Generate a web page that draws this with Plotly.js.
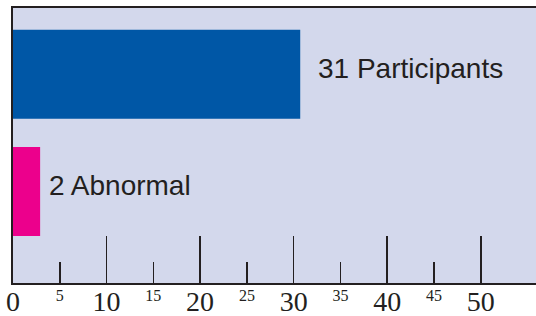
<!DOCTYPE html>
<html>
<head>
<meta charset="utf-8">
<script src="https://cdn.plot.ly/plotly-3.0.1.min.js"></script>
<style>html,body{margin:0;padding:0;background:#fff;}#chart{width:536px;height:316px;}</style>
</head>
<body>
<div id="chart"></div>
<script>
// Data (bottom to top)
var categories = ['Abnormal', 'Participants'];
var values = [2.9, 30.7];
var barLabels = ['2 Abnormal', '31 Participants'];
var barColors = ['#ec008c', '#0057a6'];
var majorTicks = [0, 10, 20, 30, 40, 50];
var majorTickText = ['0', '10', '20', '30', '40', '50'];
var minorTicks = [5, 15, 25, 35, 45];
var minorTickText = ['5', '15', '25', '35', '45'];

var ink = '#231f20';
var xRange = [0, 55.9];

// one trace per category; the second lives on the overlaid minor-tick axis
var axesFor = ['x2', 'x'];
var traces = categories.map(function (c, i) {
  return {
    type: 'bar',
    orientation: 'h',
    y: [c],
    x: [values[i]],
    xaxis: axesFor[i], yaxis: 'y',
    width: 0.76,
    marker: {color: barColors[i], line: {width: 0}},
    hoverinfo: 'none',
    showlegend: false
  };
});

var labelShift = [7, 16];
var annotations = categories.map(function (c, i) {
  return {
    x: values[i], y: c, xref: 'x', yref: 'y',
    text: barLabels[i], showarrow: false,
    xanchor: 'left', yanchor: 'middle',
    xshift: labelShift[i], yshift: 6,
    font: {family: 'Liberation Sans, Arial, sans-serif', size: 28, color: ink}
  };
});

var layout = {
  width: 536, height: 316,
  margin: {l: 13, r: 0, t: 8, b: 33, pad: 0},
  paper_bgcolor: '#ffffff',
  plot_bgcolor: '#d3d8ec',
  showlegend: false,
  xaxis: {
    range: xRange, fixedrange: true,
    tickmode: 'array', tickvals: majorTicks, ticktext: majorTickText,
    ticks: 'inside', ticklen: 47, tickwidth: 1.5, tickcolor: ink,
    showline: true, linewidth: 2, linecolor: ink, mirror: true,
    showgrid: false, zeroline: false,
    ticklabelstandoff: -8,
    tickfont: {family: 'Liberation Serif, Times New Roman, serif', size: 28, color: ink}
  },
  xaxis2: {
    overlaying: 'x', anchor: 'y', side: 'bottom',
    range: xRange, fixedrange: true,
    tickmode: 'array', tickvals: minorTicks, ticktext: minorTickText,
    ticks: 'inside', ticklen: 21, tickwidth: 1.5, tickcolor: ink,
    showline: false, showgrid: false, zeroline: false,
    ticklabelstandoff: 1,
    tickfont: {family: 'Liberation Serif, Times New Roman, serif', size: 16, color: ink}
  },
  yaxis: {
    type: 'category', categoryorder: 'array', categoryarray: categories,
    range: [-0.781, 1.566], fixedrange: true,
    showticklabels: false, ticks: '',
    showline: true, linewidth: 2, linecolor: ink,
    showgrid: false, zeroline: false
  },
  annotations: annotations
};

Plotly.newPlot('chart', traces, layout, {displayModeBar: false, staticPlot: true});
</script>
</body>
</html>
